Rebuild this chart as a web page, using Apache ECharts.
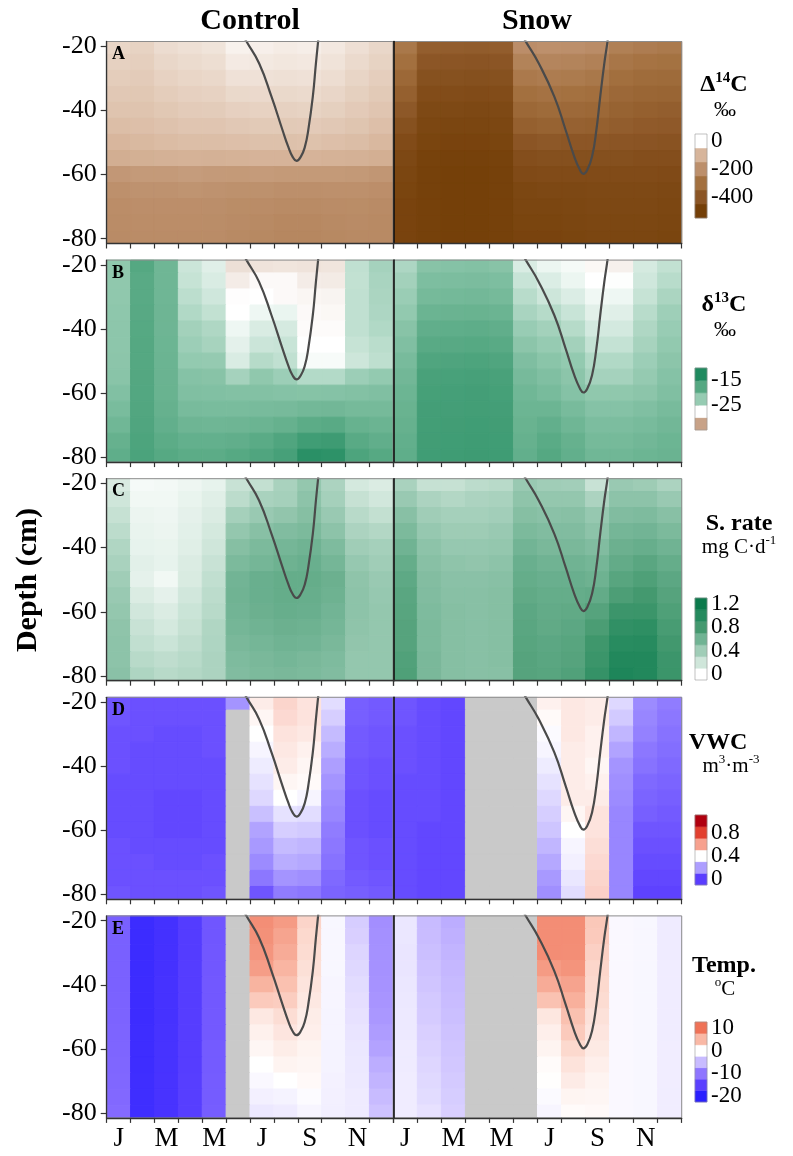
<!DOCTYPE html>
<html><head><meta charset="utf-8">
<script src="https://cdn.jsdelivr.net/npm/echarts@6/dist/echarts.min.js"></script>
<style>html,body{margin:0;padding:0;background:#fff}#chart{width:793px;height:1156px}</style>
</head><body><div id="chart"></div>
<script>
// ---------------- DATA ----------------
const months = ['J','F','M','A','M','J','J','A','S','O','N','D'];
const depths = [-20,-25,-30,-35,-40,-45,-50,-55,-60,-65,-70,-75,-80];
const depthTicks = [-20,-40,-60,-80];
const monthTickPos = [0.5,2.5,4.5,6.5,8.5,10.5];

// Δ14C (‰): rows = depths, cols = months
const a14Control = [
 [-56,-60,-47,-42,-37,-18,-21,-26,-23,-31,-43,-54],
 [-62,-65,-54,-49,-45,-28,-30,-33,-31,-38,-50,-60],
 [-68,-70,-61,-56,-53,-40,-40,-42,-40,-46,-57,-66],
 [-74,-75,-68,-63,-61,-52,-51,-52,-50,-55,-64,-72],
 [-80,-80,-75,-70,-69,-63,-61,-62,-60,-64,-71,-78],
 [-88,-86,-82,-78,-78,-74,-72,-72,-71,-74,-79,-86],
 [-98,-95,-91,-88,-88,-86,-84,-84,-83,-86,-89,-96],
 [-118,-114,-110,-108,-110,-108,-105,-105,-105,-108,-110,-116],
 [-178,-170,-170,-165,-170,-172,-168,-172,-172,-172,-175,-182],
 [-198,-192,-192,-188,-192,-195,-195,-200,-200,-198,-198,-202],
 [-206,-202,-202,-202,-203,-208,-210,-214,-214,-210,-208,-212],
 [-210,-206,-206,-206,-207,-212,-216,-222,-222,-216,-212,-216],
 [-212,-210,-210,-210,-210,-215,-220,-226,-226,-220,-215,-216]
];
const a14Snow = [
 [-275,-365,-370,-375,-370,-205,-198,-200,-210,-250,-260,-268],
 [-300,-395,-400,-405,-400,-240,-232,-236,-245,-280,-290,-295],
 [-330,-420,-420,-425,-420,-270,-262,-266,-275,-305,-315,-320],
 [-360,-440,-440,-445,-440,-300,-292,-298,-302,-328,-338,-342],
 [-390,-455,-455,-460,-455,-330,-320,-325,-330,-350,-360,-365],
 [-420,-465,-470,-470,-465,-360,-350,-355,-360,-370,-380,-385],
 [-445,-475,-480,-480,-475,-400,-390,-395,-395,-400,-405,-410],
 [-460,-485,-490,-490,-485,-430,-425,-425,-425,-425,-430,-430],
 [-470,-490,-495,-495,-490,-450,-445,-445,-445,-445,-445,-450],
 [-475,-490,-495,-495,-490,-465,-460,-460,-455,-455,-455,-460],
 [-480,-490,-495,-495,-490,-470,-470,-465,-460,-460,-460,-465],
 [-480,-490,-495,-495,-490,-475,-475,-470,-465,-465,-465,-470],
 [-480,-490,-495,-495,-490,-480,-480,-475,-470,-470,-470,-475]
];

// δ13C (‰)
const d13Control = [
 [-22.0,-17.5,-19.5,-25.0,-26.0,-29.2,-29.0,-28.9,-29.0,-28.9,-24.5,-23.2],
 [-22.0,-17.8,-19.5,-24.8,-25.7,-28.5,-27.8,-27.8,-28.5,-28.6,-24.6,-23.4],
 [-22.0,-17.8,-19.5,-24.3,-25.2,-27.6,-27.5,-27.8,-28.0,-28.1,-24.5,-23.5],
 [-21.9,-17.7,-19.4,-23.8,-24.6,-27.5,-26.7,-26.5,-27.8,-27.9,-24.5,-23.6],
 [-21.8,-17.6,-19.4,-23.1,-23.7,-26.7,-25.7,-25.5,-27.7,-27.7,-24.5,-23.8],
 [-21.8,-17.5,-19.3,-22.8,-23.3,-26.2,-25.0,-24.9,-27.5,-27.5,-24.8,-24.2],
 [-21.7,-17.5,-19.2,-22.3,-22.4,-25.7,-24.0,-24.5,-27.1,-27.1,-25.1,-24.4],
 [-21.5,-17.4,-19.1,-21.2,-21.4,-23.2,-22.0,-22.8,-23.9,-23.9,-22.8,-22.3],
 [-20.9,-17.3,-19.0,-20.8,-20.9,-21.0,-21.0,-21.2,-21.3,-21.2,-21.0,-20.8],
 [-20.3,-17.2,-18.8,-20.2,-20.3,-20.3,-20.2,-20.1,-19.8,-19.7,-20.0,-20.0],
 [-19.6,-17.0,-18.5,-19.4,-19.5,-19.4,-19.2,-18.8,-18.0,-17.8,-18.9,-19.2],
 [-18.8,-16.8,-18.0,-18.6,-18.6,-18.4,-17.9,-17.0,-15.6,-15.4,-17.8,-18.4],
 [-18.3,-16.6,-17.6,-18.0,-18.0,-17.6,-17.0,-16.2,-13.5,-13.8,-16.8,-17.6]
];
const d13Snow = [
 [-23.6,-21.4,-21.2,-21.0,-21.4,-25.7,-26.6,-27.0,-27.9,-28.3,-25.5,-24.6],
 [-23.1,-20.6,-20.5,-20.4,-20.6,-24.9,-25.8,-26.6,-27.5,-27.4,-25.2,-24.1],
 [-22.7,-20.0,-19.9,-19.8,-20.0,-24.1,-25.1,-25.8,-26.8,-26.7,-24.8,-23.5],
 [-22.2,-19.2,-19.1,-19.0,-19.2,-23.4,-24.0,-24.9,-26.1,-26.0,-24.1,-22.9],
 [-21.4,-18.4,-18.3,-18.2,-18.4,-22.6,-23.1,-24.0,-25.4,-25.4,-23.7,-22.6],
 [-20.8,-17.8,-17.7,-17.6,-17.8,-21.7,-22.5,-23.1,-24.7,-24.7,-23.3,-22.2],
 [-20.2,-17.0,-16.9,-16.8,-17.0,-20.7,-21.6,-22.3,-23.8,-23.8,-22.8,-21.7],
 [-19.7,-16.4,-16.3,-16.2,-16.4,-20.1,-20.8,-21.7,-23.2,-23.2,-22.4,-21.2],
 [-19.3,-16.1,-16.0,-15.9,-16.1,-19.6,-20.2,-21.2,-22.0,-22.0,-21.7,-20.8],
 [-19.0,-15.9,-15.9,-15.8,-15.9,-19.3,-19.3,-20.2,-21.2,-21.2,-20.8,-20.2],
 [-18.8,-15.8,-15.7,-15.6,-15.7,-19.0,-18.5,-19.5,-20.5,-20.5,-20.2,-19.7],
 [-18.5,-15.7,-15.6,-15.5,-15.6,-18.8,-17.9,-18.8,-20.0,-20.0,-19.7,-19.3],
 [-18.3,-15.6,-15.5,-15.4,-15.5,-18.5,-17.5,-18.5,-19.6,-19.6,-19.3,-19.1]
];

// Soil respiration rate (mg C d-1)
const rateControl = [
 [0.16,0.04,0.05,0.07,0.10,0.23,0.25,0.36,0.45,0.35,0.18,0.15],
 [0.20,0.06,0.06,0.09,0.13,0.28,0.36,0.38,0.48,0.38,0.24,0.19],
 [0.24,0.08,0.07,0.11,0.15,0.38,0.43,0.46,0.51,0.43,0.30,0.25],
 [0.28,0.09,0.08,0.12,0.18,0.45,0.50,0.53,0.55,0.48,0.35,0.32],
 [0.33,0.10,0.09,0.13,0.20,0.51,0.55,0.58,0.60,0.54,0.40,0.38],
 [0.36,0.12,0.10,0.15,0.23,0.55,0.58,0.61,0.63,0.58,0.44,0.40],
 [0.40,0.11,0.06,0.16,0.26,0.59,0.63,0.65,0.65,0.62,0.47,0.43],
 [0.43,0.15,0.11,0.19,0.28,0.60,0.63,0.65,0.64,0.61,0.48,0.44],
 [0.45,0.19,0.15,0.22,0.30,0.59,0.62,0.64,0.63,0.59,0.48,0.45],
 [0.47,0.23,0.18,0.24,0.33,0.58,0.60,0.62,0.61,0.58,0.47,0.45],
 [0.48,0.26,0.22,0.27,0.34,0.56,0.58,0.60,0.59,0.56,0.46,0.45],
 [0.48,0.30,0.27,0.30,0.35,0.54,0.56,0.58,0.56,0.54,0.45,0.45],
 [0.49,0.34,0.30,0.32,0.35,0.53,0.55,0.56,0.55,0.53,0.45,0.45]
];
const rateSnow = [
 [0.36,0.24,0.24,0.28,0.30,0.43,0.40,0.39,0.23,0.43,0.41,0.35],
 [0.43,0.35,0.32,0.35,0.36,0.47,0.45,0.45,0.35,0.48,0.48,0.43],
 [0.50,0.40,0.38,0.38,0.39,0.51,0.49,0.50,0.44,0.53,0.54,0.50],
 [0.55,0.44,0.41,0.41,0.43,0.55,0.53,0.53,0.48,0.58,0.59,0.55],
 [0.60,0.48,0.44,0.44,0.45,0.59,0.56,0.56,0.53,0.62,0.64,0.60],
 [0.65,0.50,0.47,0.46,0.48,0.63,0.60,0.60,0.58,0.66,0.70,0.65],
 [0.68,0.52,0.49,0.49,0.50,0.65,0.63,0.63,0.61,0.71,0.75,0.69],
 [0.70,0.53,0.50,0.50,0.51,0.67,0.65,0.65,0.66,0.76,0.80,0.72],
 [0.71,0.54,0.51,0.50,0.51,0.69,0.66,0.67,0.72,0.85,0.86,0.75],
 [0.72,0.55,0.51,0.50,0.51,0.70,0.67,0.69,0.77,0.92,0.94,0.78],
 [0.72,0.55,0.51,0.50,0.51,0.71,0.69,0.71,0.83,0.98,0.99,0.81],
 [0.74,0.56,0.51,0.50,0.51,0.72,0.70,0.72,0.86,1.02,1.02,0.85],
 [0.75,0.56,0.51,0.50,0.50,0.72,0.71,0.74,0.90,1.05,1.02,0.86]
];

// Volumetric water content (m3 m-3); null = no data
const vwcControl = [
 [0.05,0.04,0.04,0.04,0.04,0.18,0.44,0.49,0.46,0.33,0.07,0.06],
 [0.05,0.04,0.04,0.04,0.04,null,0.42,0.48,0.46,0.30,0.07,0.06],
 [0.04,0.04,0.03,0.03,0.04,null,0.40,0.46,0.45,0.26,0.06,0.05],
 [0.04,0.03,0.03,0.03,0.04,null,0.38,0.45,0.43,0.23,0.06,0.05],
 [0.04,0.03,0.03,0.03,0.03,null,0.36,0.44,0.42,0.20,0.05,0.04],
 [0.03,0.03,0.03,0.03,0.03,null,0.34,0.42,0.41,0.18,0.05,0.04],
 [0.03,0.03,0.02,0.02,0.03,null,0.32,0.40,0.38,0.16,0.04,0.03],
 [0.03,0.03,0.02,0.02,0.03,null,0.27,0.34,0.33,0.15,0.04,0.03],
 [0.03,0.03,0.02,0.02,0.03,null,0.21,0.30,0.29,0.13,0.04,0.03],
 [0.04,0.03,0.03,0.03,0.03,null,0.19,0.26,0.25,0.12,0.05,0.04],
 [0.04,0.04,0.03,0.03,0.04,null,0.16,0.23,0.22,0.11,0.05,0.04],
 [0.04,0.04,0.04,0.04,0.04,null,0.12,0.18,0.17,0.09,0.06,0.05],
 [0.05,0.04,0.04,0.04,0.05,null,0.05,0.13,0.12,0.08,0.07,0.06]
];
const vwcSnow = [
 [0.05,0.03,0.02,null,null,null,0.43,0.45,0.44,0.32,0.16,0.13],
 [0.05,0.03,0.02,null,null,null,0.41,0.45,0.44,0.29,0.15,0.12],
 [0.04,0.03,0.02,null,null,null,0.39,0.45,0.43,0.25,0.14,0.11],
 [0.04,0.03,0.02,null,null,null,0.38,0.44,0.43,0.21,0.12,0.10],
 [0.04,0.03,0.02,null,null,null,0.36,0.44,0.42,0.18,0.11,0.09],
 [0.03,0.03,0.02,null,null,null,0.34,0.44,0.43,0.17,0.09,0.08],
 [0.03,0.03,0.02,null,null,null,0.32,0.44,0.44,0.16,0.08,0.07],
 [0.03,0.03,0.02,null,null,null,0.30,0.42,0.46,0.15,0.07,0.06],
 [0.03,0.02,0.02,null,null,null,0.28,0.40,0.46,0.15,0.05,0.05],
 [0.03,0.02,0.02,null,null,null,0.25,0.38,0.47,0.15,0.04,0.04],
 [0.03,0.02,0.02,null,null,null,0.22,0.37,0.48,0.15,0.03,0.03],
 [0.03,0.02,0.02,null,null,null,0.19,0.35,0.49,0.15,0.02,0.02],
 [0.03,0.02,0.02,null,null,null,0.17,0.33,0.50,0.15,0.01,0.01]
];

// Soil temperature (°C); null = no data
const tempControl = [
 [-12.0,-18.1,-17.3,-15.6,-12.9,null,8.0,7.1,3.0,-0.6,-3.7,-8.2],
 [-12.0,-18.1,-17.3,-15.6,-12.9,null,7.8,6.4,2.7,-0.6,-3.5,-8.1],
 [-12.0,-18.1,-17.2,-15.6,-12.8,null,7.5,5.9,2.5,-0.6,-3.1,-8.0],
 [-11.9,-18.1,-17.2,-15.5,-12.8,null,6.9,5.2,2.2,-0.6,-2.9,-8.0],
 [-11.9,-18.0,-17.1,-15.5,-12.7,null,5.3,4.4,1.9,-0.7,-2.6,-7.9],
 [-11.8,-18.0,-17.1,-15.5,-12.7,null,3.7,3.5,1.6,-0.7,-2.4,-7.8],
 [-11.7,-18.0,-17.1,-15.4,-12.6,null,1.6,2.4,1.3,-0.8,-2.2,-7.6],
 [-11.6,-17.9,-17.0,-15.4,-12.6,null,1.0,1.8,1.1,-0.8,-2.0,-7.2],
 [-11.5,-17.9,-17.0,-15.4,-12.5,null,0.6,1.3,0.8,-0.9,-1.8,-6.8],
 [-11.4,-17.9,-17.0,-15.4,-12.5,null,0.0,0.8,0.6,-0.9,-1.7,-6.0],
 [-11.3,-17.8,-16.9,-15.3,-12.4,null,-0.5,0.0,0.4,-1.0,-1.6,-5.5],
 [-11.2,-17.8,-16.9,-15.3,-12.4,null,-1.1,-0.9,-0.3,-1.1,-1.5,-5.0],
 [-11.0,-17.8,-16.9,-15.3,-12.3,null,-1.7,-1.5,-0.7,-1.2,-1.5,-4.5]
];
const tempSnow = [
 [-1.8,-5.0,-6.0,null,null,null,8.1,8.1,3.9,-0.5,-0.6,-1.5],
 [-1.8,-4.9,-5.8,null,null,null,8.1,8.1,3.7,-0.5,-0.6,-1.5],
 [-1.9,-4.7,-5.5,null,null,null,8.1,8.0,3.3,-0.5,-0.6,-1.5],
 [-1.9,-4.5,-5.3,null,null,null,7.1,7.6,2.9,-0.5,-0.6,-1.4],
 [-1.8,-4.3,-5.1,null,null,null,5.9,6.5,2.7,-0.5,-0.6,-1.4],
 [-1.7,-4.0,-4.9,null,null,null,4.3,5.6,2.5,-0.5,-0.6,-1.4],
 [-1.6,-3.8,-4.7,null,null,null,1.7,4.4,2.1,-0.5,-0.6,-1.4],
 [-1.6,-3.5,-4.5,null,null,null,1.1,3.7,1.8,-0.5,-0.6,-1.4],
 [-1.5,-3.3,-4.3,null,null,null,0.8,2.7,1.5,-0.5,-0.6,-1.3],
 [-1.5,-3.0,-4.1,null,null,null,0.3,2.0,1.1,-0.5,-0.6,-1.3],
 [-1.4,-2.8,-3.9,null,null,null,0.1,1.4,0.8,-0.5,-0.6,-1.3],
 [-1.4,-2.6,-3.7,null,null,null,-0.4,0.7,0.6,-0.5,-0.6,-1.3],
 [-1.4,-2.2,-3.5,null,null,null,-0.7,0.3,0.4,-0.5,-0.6,-1.3]
];

// Thaw-front curve: [month position, depth]
const curveControl = [[5.55,-14.5],[5.86,-18.6],[6.38,-25.3],[6.90,-35.7],[7.36,-46.1],[7.60,-51.3],[7.78,-54.4],[7.95,-55.7],[8.13,-54.4],[8.30,-51.3],[8.44,-46.1],[8.63,-35.7],[8.76,-25.3],[8.85,-18.6],[8.90,-14.8]];
const curveSnow = [[5.20,-14.5],[5.52,-18.6],[6.05,-25.3],[6.70,-35.7],[7.17,-46.1],[7.53,-54.4],[7.77,-58.6],[7.91,-59.8],[8.07,-58.6],[8.27,-54.4],[8.45,-46.1],[8.61,-35.7],[8.78,-25.3],[8.91,-18.6],[8.97,-14.5]];

// Colour-bar tick labels
const c14Ticks = [0,-200,-400];
const d13Ticks = [-15,-25];
const rateTicks = [1.2,0.8,0.4,0];
const vwcTicks = [0.8,0.4,0];
const tempTicks = [10,0,-10,-20];

// ---------------- STYLE ----------------
const FONT = "'Liberation Serif','Times New Roman',serif";
const GRAY = '#c9c9c9';
const CM_C14 = [[-600,'#6d3a04'],[-500,'#743f08'],[-400,'#8b5525'],[-300,'#a3703f'],[-200,'#bc8f6b'],[-100,'#d7b59b'],[0,'#ffffff'],[100,'#ffffff']];
const CM_D13 = [[-40,'#b0805c'],[-32.5,'#c8a287'],[-27.5,'#ffffff'],[-22.5,'#96cbb2'],[-17.5,'#55a882'],[-12.5,'#1f8a5f'],[-10,'#0d7a4e'],[0,'#0d7a4e']];
const CM_RATE = [[-1,'#ffffff'],[0,'#ffffff'],[0.2,'#cfe6da'],[0.4,'#a0cdb7'],[0.6,'#70b393'],[0.8,'#44996f'],[1.0,'#258a5e'],[1.2,'#0b7a4c'],[2,'#006b40']];
const CM_VWC = [[-1,'#5a3dff'],[0,'#5a3dff'],[0.4,'#ffffff'],[0.6,'#f7a18e'],[0.8,'#e2402f'],[1.0,'#b0000f'],[2,'#8f0008']];
const CM_TEMP = [[-40,'#0000ff'],[-25,'#0000ff'],[-20,'#2a1fff'],[-15,'#5a40ff'],[-10,'#8e75ff'],[-5,'#c8bbff'],[0,'#ffffff'],[5,'#f9b8a5'],[10,'#ef7257'],[15,'#e03a28'],[40,'#c02010']];

const ROW_TOP = [41.5, 260.1, 478.7, 697.3, 915.9];
const ROW_H = 202;
const COL_LEFT = [106.7, 393.3];
const COL_W = [286.6, 288.4];

function hexToRgb(h){return [parseInt(h.slice(1,3),16),parseInt(h.slice(3,5),16),parseInt(h.slice(5,7),16)];}
function colorAt(stops, v){
  if (v <= stops[0][0]) return stops[0][1];
  for (let i = 0; i < stops.length - 1; i++) {
    const v0 = stops[i][0], v1 = stops[i+1][0];
    if (v >= v0 && v <= v1) {
      const t = (v - v0) / (v1 - v0), a = hexToRgb(stops[i][1]), b = hexToRgb(stops[i+1][1]);
      return 'rgb(' + a.map((x,k)=>Math.round(x + (b[k]-x)*t)).join(',') + ')';
    }
  }
  return stops[stops.length-1][1];
}

const panels = [
  {letter:'A', data:[a14Control, a14Snow], cmap:CM_C14},
  {letter:'B', data:[d13Control, d13Snow], cmap:CM_D13},
  {letter:'C', data:[rateControl, rateSnow], cmap:CM_RATE},
  {letter:'D', data:[vwcControl, vwcSnow], cmap:CM_VWC},
  {letter:'E', data:[tempControl, tempSnow], cmap:CM_TEMP}
];
const curves = [curveControl, curveSnow];

const bars = [
  {top:134, height:84, hi:50, lo:-550, step:100, ticks:c14Ticks, cmap:CM_C14},
  {top:368, height:62, hi:-10, lo:-35, step:5, ticks:d13Ticks, cmap:CM_D13},
  {top:598, height:82, hi:1.3, lo:-0.1, step:0.2, ticks:rateTicks, cmap:CM_RATE},
  {top:815, height:70, hi:1.1, lo:-0.1, step:0.2, ticks:vwcTicks, cmap:CM_VWC},
  {top:1022, height:80, hi:12.5, lo:-22.5, step:5, ticks:tempTicks, cmap:CM_TEMP}
];

const grid = [], xAxis = [], yAxis = [], series = [];
const axisColor = '#333';

function cellRenderer(cmap){
  return function(params, api){
    const m = api.value(0), d = api.value(1), v = api.value(2), miss = api.value(3);
    const p0 = api.coord([m, d + 2.5]);
    const p1 = api.coord([m + 1, d - 2.5]);
    const cs = params.coordSys;
    const shape = echarts.graphic.clipRectByRect(
      {x:p0[0], y:p0[1], width:p1[0]-p0[0], height:p1[1]-p0[1]},
      {x:cs.x, y:cs.y, width:cs.width, height:cs.height});
    if (!shape) return null;
    const fill = miss ? GRAY : colorAt(cmap, v);
    return {type:'rect', shape:shape, style:{fill:fill, stroke:fill, lineWidth:1}};
  };
}

panels.forEach((p, r) => {
  for (let c = 0; c < 2; c++) {
    const g = grid.length;
    grid.push({left:COL_LEFT[c], top:ROW_TOP[r], width:COL_W[c], height:ROW_H, show:true,
      borderColor:'#8c8c8c', borderWidth:1, backgroundColor:'transparent', z:5});
    xAxis.push({gridIndex:g, type:'value', min:0, max:12, interval:1, position:'bottom', z:6,
      axisLine:{show:true, onZero:false, lineStyle:{color:axisColor, width:1.3}},
      axisTick:{show:true, length:5, lineStyle:{color:axisColor, width:1.2}},
      axisLabel:{show:r===4, customValues:monthTickPos, formatter:(v)=>months[Math.floor(v)],
        fontSize:27, color:'#000', fontFamily:FONT, margin:8},
      splitLine:{show:false}});
    yAxis.push({gridIndex:g, type:'value', min:-81.5, max:-18.5, z:6,
      axisLine:{show:true, onZero:false, lineStyle:{color: c===0 ? axisColor : '#111', width: c===0 ? 1.3 : 1.6}},
      axisTick:{show:c===0, customValues:depthTicks, length:6, lineStyle:{color:axisColor, width:1.2}},
      axisLabel:{show:c===0, customValues:depthTicks, fontSize:26, color:'#000', fontFamily:FONT, margin:10},
      splitLine:{show:false}});
    const src = p.data[c];
    const cells = [];
    depths.forEach((d, i) => months.forEach((mm, j) => {
      const v = src[i][j];
      cells.push([j, d, v == null ? 0 : v, v == null ? 1 : 0]);
    }));
    series.push({type:'custom', xAxisIndex:g, yAxisIndex:g, data:cells, renderItem:cellRenderer(p.cmap),
      dimensions:['m','d','v','miss'], encode:{x:0, y:1}, silent:true, z:2});
    series.push({type:'line', xAxisIndex:g, yAxisIndex:g, data:curves[c], showSymbol:false, smooth:0.5,
      clip:true, silent:true, z:3, lineStyle:{color:'#4a4a4a', width:2.2}});
  }
});

bars.forEach((b) => {
  const g = grid.length;
  grid.push({left:695, top:b.top, width:12, height:b.height, show:true, borderColor:'#999', borderWidth:0.6, z:5});
  xAxis.push({gridIndex:g, type:'value', min:0, max:1, show:false});
  yAxis.push({gridIndex:g, type:'value', min:b.lo, max:b.hi, position:'right',
    axisLine:{show:false},
    axisTick:{show:true, customValues:b.ticks, length:4, lineStyle:{color:axisColor}},
    axisLabel:{show:true, customValues:b.ticks, fontSize:23, color:'#000', fontFamily:FONT, margin:4},
    splitLine:{show:false}});
  const bands = [];
  const n = Math.round((b.hi - b.lo) / b.step);
  for (let k = 0; k < n; k++) bands.push([b.lo + k*b.step, b.lo + (k+1)*b.step]);
  series.push({type:'custom', xAxisIndex:g, yAxisIndex:g, data:bands, silent:true,
    encode:{y:[0,1]},
    renderItem:function(params, api){
      const lo = api.value(0), hi = api.value(1);
      const p0 = api.coord([0, hi]), p1 = api.coord([1, lo]);
      const fill = colorAt(b.cmap, (lo + hi) / 2);
      return {type:'rect', shape:{x:p0[0], y:p0[1], width:p1[0]-p0[0], height:p1[1]-p0[1]},
        style:{fill:fill, stroke:fill, lineWidth:0.5}};
    }});
});

const txt = (x, y, text, size, bold, extra) => Object.assign({type:'text', x:x, y:y, z:20,
  style:{text:text, fontSize:size, fontWeight:bold?'bold':'normal', fontFamily:FONT, fill:'#000', align:'center', verticalAlign:'middle'}}, extra || {});

const supRich = (size, bold) => ({
  b:{fontSize:size, fontWeight:bold?'bold':'normal', fontFamily:FONT, fill:'#000', lineHeight:size+2, verticalAlign:'bottom'},
  s:{fontSize:Math.round(size*0.62), fontWeight:bold?'bold':'normal', fontFamily:FONT, fill:'#000', lineHeight:size+2, verticalAlign:'top'}
});
const richTxt = (x, y, text, size, bold) => ({type:'text', x:x, y:y, z:20,
  style:{text:text, rich:supRich(size, bold), fontFamily:FONT, align:'center', verticalAlign:'middle'}});

const graphic = [
  txt(250, 21, 'Control', 30, true),
  txt(537, 21, 'Snow', 30, true),
  txt(28, 580, 'Depth (cm)', 30, true, {rotation:Math.PI/2}),
  richTxt(724, 84, '{b|Δ}{s|14}{b|C}', 24, true),
  txt(725, 110, '‰', 22, false),
  richTxt(724, 304, '{b|δ}{s|13}{b|C}', 24, true),
  txt(725, 330, '‰', 22, false),
  txt(739, 524, 'S. rate', 24, true),
  richTxt(739, 546, '{b|mg C·d}{s|-1}', 21, false),
  txt(718, 743, 'VWC', 24, true),
  richTxt(731, 765, '{b|m}{s|3}{b|·m}{s|-3}', 21, false),
  txt(724, 966, 'Temp.', 24, true),
  richTxt(725, 988, '{s|o}{b|C}', 21, false)
];
panels.forEach((p, r) => {
  const t = txt(112, ROW_TOP[r] + 13, p.letter, 18, true);
  t.style.align = 'left';
  graphic.push(t);
});

const chart = echarts.init(document.getElementById('chart'), null, {renderer:'canvas'});
chart.setOption({animation:false, backgroundColor:'#fff', grid, xAxis, yAxis, series, graphic});
</script>
</body></html>
